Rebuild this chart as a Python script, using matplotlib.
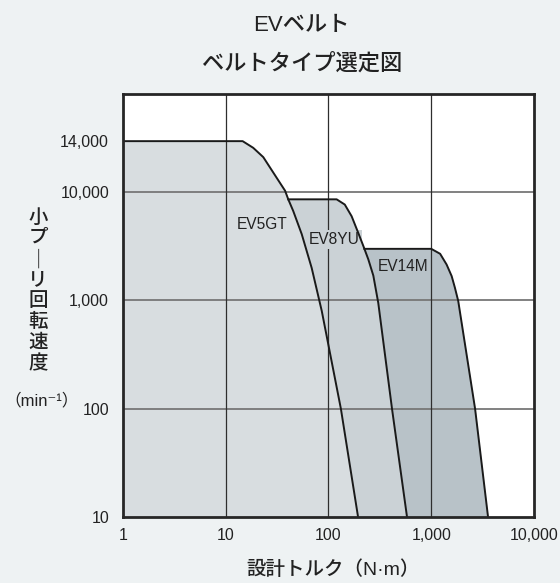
import numpy as np
import matplotlib
matplotlib.use("Agg")
import matplotlib.pyplot as plt

plt.rcParams['font.family'] = ['Liberation Sans', 'DejaVu Sans', 'Noto Sans CJK JP']

# torque (N·m) vs. small pulley speed (min^-1) limits per belt type
ev5gt_torque = [1, 14.6, 18.5, 23.2, 31.3, 37.8, 40.6, 45.4, 54.9, 68.6, 86, 132, 194]
ev5gt_speed = [14000, 14000, 13400, 12600, 11000, 10100, 8600, 6700, 4100, 2000, 800, 100, 10]

ev8yu_torque = [1, 120, 144, 168, 195, 218, 244, 273, 305, 415, 581]
ev8yu_speed = [8600, 8600, 7700, 6000, 4200, 3200, 2400, 1700, 950, 100, 10]

ev14m_torque = [1, 1000, 1220, 1410, 1580, 1700, 1830, 2670, 3570]
ev14m_speed = [3000, 3000, 2700, 2150, 1680, 1310, 990, 100, 10]

x_ticks = [1, 10, 100, 1000, 10000]
x_ticklabels = ["1", "10", "100", "1,000", "10,000"]
y_ticks = [10, 100, 1000, 10000, 14000]
y_ticklabels = ["10", "100", "1,000", "10,000", "14,000"]
y_grid = [100, 1000, 10000]
x_grid = [10, 100, 1000]

BG = "#eef2f3"
FILLS = {"EV5GT": "#d8dde0", "EV8YU": "#cbd2d6", "EV14M": "#b8c2c8"}
INK = "#222222"

# log scale, stretched above 10,000 so the 14,000 plateau stands clear
K = 3.23
def fwd(v):
    lv = np.log10(np.clip(np.asarray(v, float), 1e-9, None))
    return np.where(lv <= 4, lv, 4 + K * (lv - 4))

def inv(p):
    p = np.asarray(p, float)
    return np.where(p <= 4, 10 ** p, 10 ** (4 + (p - 4) / K))

def emerge(front_t, front_s, level):
    # torque where the falling edge of the front curve drops to `level`
    t = np.log10(front_t[1:])[::-1]
    s = np.log10(front_s[1:])[::-1]
    return 10 ** np.interp(np.log10(level), s, t)

fig = plt.figure(figsize=(5.6, 5.83), dpi=100, facecolor=BG)
ax = fig.add_axes([0.2196, 0.1132, 0.7340, 0.7256])
ax.set_facecolor("white")
ax.set_xscale("log")
ax.set_yscale("function", functions=(fwd, inv))
ax.set_xlim(1, 10000)
ax.set_ylim(10, 19100)

series = [("EV14M", ev14m_torque, ev14m_speed, (ev8yu_torque, ev8yu_speed)),
          ("EV8YU", ev8yu_torque, ev8yu_speed, (ev5gt_torque, ev5gt_speed)),
          ("EV5GT", ev5gt_torque, ev5gt_speed, None)]
for z, (name, xs, ys, front) in enumerate(series):
    ax.fill_between(xs, ys, 10, color=FILLS[name], lw=0, zorder=1 + z * 0.1)
    start = xs[0] if front is None else emerge(*front, ys[0])
    ax.plot([start] + xs[1:], ys, color="#1a1a1a", lw=1.4, zorder=7)

for y in y_grid:
    ax.axhline(y, color="#777777", lw=1.3, zorder=3)
for x in x_grid:
    ax.axvline(x, color="#2e2e2e", lw=0.9, zorder=3)

lab = dict(fontsize=11.2, ha="center", va="center", color=INK, zorder=5)
ax.text(22.5, 5060, "EV5GT", **lab)
ax.text(114, 3670, "EV8YU", **lab,
        bbox=dict(boxstyle="square,pad=0.12", facecolor=FILLS["EV8YU"], edgecolor="none"))
ax.text(531, 2070, "EV14M", **lab)

ax.set_xticks(x_ticks)
ax.set_xticklabels(x_ticklabels)
ax.set_yticks(y_ticks)
ax.set_yticklabels(y_ticklabels)
ax.minorticks_off()
ax.tick_params(axis="both", length=0, labelsize=11.5, colors=INK)
ax.tick_params(axis="x", pad=8)
ax.tick_params(axis="y", pad=10)
for s in ax.spines.values():
    s.set_color("#262626")
    s.set_linewidth(2.0)
    s.set_zorder(8)

fig.text(0.539, 1 - 25 / 583, "EVベルト", fontsize=16, fontweight="medium",
         ha="center", va="center", color=INK)
fig.text(0.539, 1 - 64 / 583, "ベルトタイプ選定図", fontsize=16, fontweight="medium",
         ha="center", va="center", color=INK)
fig.text(333 / 560, 1 - 570 / 583, "設計トルク（N·m）", fontsize=14, fontweight="medium",
         ha="center", va="center", color=INK)
fig.text(38 / 560, 1 - 291 / 583, "\n".join("小プ｜リ回転速度"), fontsize=14, fontweight="medium",
         ha="center", va="center", color=INK, linespacing=1.22)
fig.text(42 / 560, 1 - 400 / 583, "（min⁻¹）", fontsize=12, ha="center", va="center", color=INK)

fig.savefig("out.png", dpi=100, facecolor=BG)
